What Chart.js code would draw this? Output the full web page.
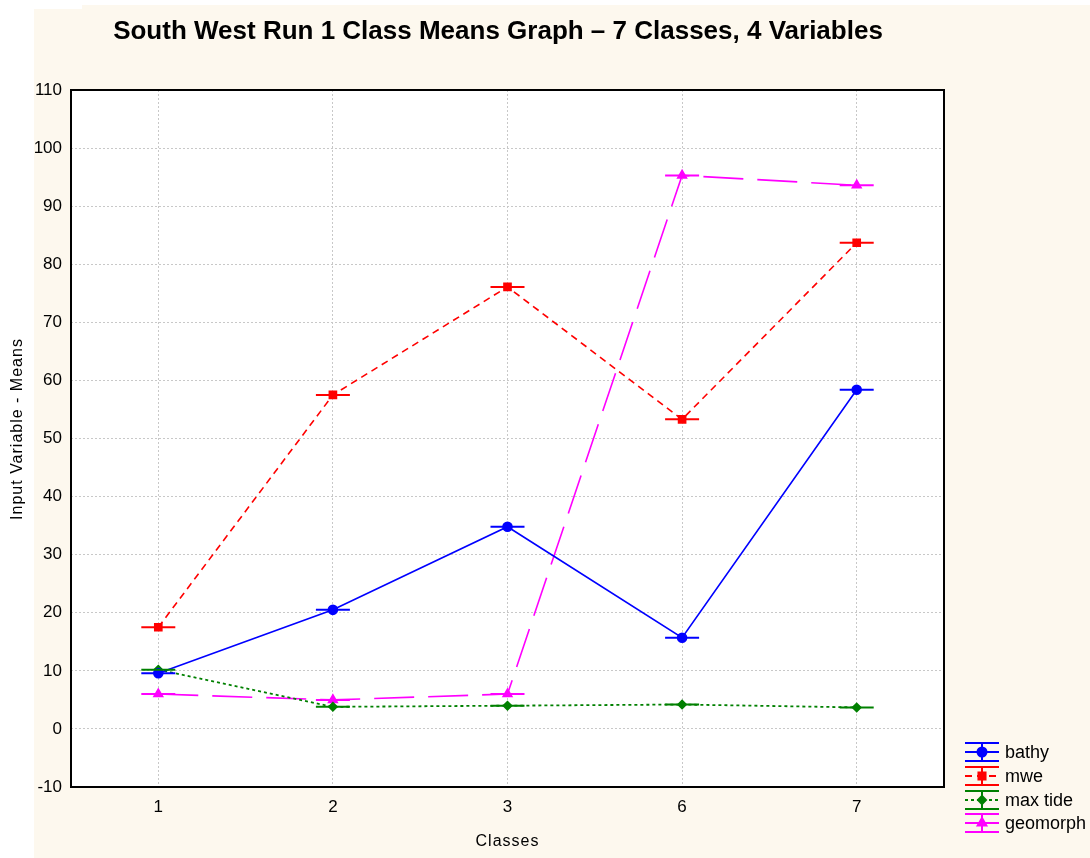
<!DOCTYPE html>
<html lang="en">
<head>
<meta charset="UTF-8">
<title>South West Run 1 Class Means Graph</title>
<script src="https://cdn.jsdelivr.net/npm/chart.js"></script>
<style>
    body { margin: 0; padding: 0; background: #ffffff; }
    #wrap { width: 1090px; height: 858px; position: relative; }
</style>
</head>
<body>
<div id="wrap"><canvas id="chart" width="1090" height="858"></canvas></div>
<script>
    const classes = ['1', '2', '3', '6', '7'];
    const bathy = [9.6, 20.5, 34.8, 15.7, 58.4];
    const mwe = [17.5, 57.5, 76.1, 53.3, 83.7];
    const maxTide = [10.2, 3.8, 4.0, 4.2, 3.7];
    const geomorph = [6.0, 5.0, 6.0, 95.3, 93.6];
    const yTicks = [-10, 0, 10, 20, 30, 40, 50, 60, 70, 80, 90, 100, 110];

    const FONT = '"Liberation Sans", Arial, sans-serif';

    // background, title, axis titles, frame, error caps and legend
    const decor = {
        id: 'decor',
        beforeDraw(chart) {
            const c = chart.ctx;
            const a = chart.chartArea;
            c.save();
            c.fillStyle = '#fdf8ee';
            c.fillRect(82, 5, 1008, 4);
            c.fillRect(34, 9, 1056, 849);
            c.fillStyle = '#ffffff';
            c.fillRect(a.left, a.top, a.right - a.left, a.bottom - a.top);
            c.restore();
        },
        afterDatasetsDraw(chart) {
            const c = chart.ctx;
            c.save();
            chart.data.datasets.forEach((ds, i) => {
                const meta = chart.getDatasetMeta(i);
                c.strokeStyle = ds.borderColor;
                c.lineWidth = 2;
                c.setLineDash([]);
                meta.data.forEach(p => {
                    c.beginPath();
                    c.moveTo(p.x - 17, p.y);
                    c.lineTo(p.x + 17, p.y);
                    c.stroke();
                });
            });
            c.restore();
        },
        afterDraw(chart) {
            const c = chart.ctx;
            const a = chart.chartArea;
            c.save();
            // frame
            c.strokeStyle = '#000000';
            c.lineWidth = 2;
            c.strokeRect(a.left, a.top, a.right - a.left, a.bottom - a.top);

            // title
            c.fillStyle = '#000000';
            c.font = 'bold 26px ' + FONT;
            c.textAlign = 'center';
            c.textBaseline = 'middle';
            c.fillText('South West Run 1 Class Means Graph \u2013 7 Classes, 4 Variables', 498, 32);

            // axis titles
            c.font = '16px ' + FONT;
            c.letterSpacing = '1px';
            c.fillText('Classes', (a.left + a.right) / 2, 842);
            c.save();
            c.translate(18, 429);
            c.rotate(-Math.PI / 2);
            c.fillText('Input Variable - Means', 0, 0);
            c.restore();
            c.letterSpacing = '0px';

            // legend
            const rows = [752, 776, 800, 823];
            chart.data.datasets.forEach((ds, i) => {
                const y = rows[i];
                const x0 = 965, x1 = 999, xm = 982;
                c.strokeStyle = ds.borderColor;
                c.fillStyle = ds.borderColor;
                c.lineWidth = 2;
                c.setLineDash([]);
                c.beginPath();
                c.moveTo(x0, y - 9); c.lineTo(x1, y - 9);
                c.moveTo(x0, y + 9); c.lineTo(x1, y + 9);
                c.moveTo(xm, y - 9); c.lineTo(xm, y + 9);
                c.stroke();
                c.setLineDash(ds.borderDash || []);
                c.beginPath();
                c.moveTo(x0, y); c.lineTo(x1, y);
                c.stroke();
                c.setLineDash([]);
                Chart.helpers.drawPoint(c, {
                    pointStyle: ds.pointStyle,
                    radius: ds.pointRadius,
                    borderWidth: 1
                }, xm, y);
                c.fillStyle = '#000000';
                c.font = '18px ' + FONT;
                c.textAlign = 'left';
                c.fillText(ds.label, 1005, y + 1);
            });
            c.restore();
        }
    };

    new Chart(document.getElementById('chart'), {
        type: 'line',
        data: {
            labels: classes,
            datasets: [
                {
                    label: 'bathy', data: bathy,
                    borderColor: '#0000ff', backgroundColor: '#0000ff',
                    borderWidth: 1.6, pointStyle: 'circle', pointRadius: 4.5
                },
                {
                    label: 'mwe', data: mwe,
                    borderColor: '#ff0000', backgroundColor: '#ff0000',
                    borderWidth: 1.6, borderDash: [7, 5], pointStyle: 'rect', pointRadius: 5
                },
                {
                    label: 'max tide', data: maxTide,
                    borderColor: '#008000', backgroundColor: '#008000',
                    borderWidth: 1.8, borderDash: [3, 3], pointStyle: 'rectRot', pointRadius: 4
                },
                {
                    label: 'geomorph', data: geomorph,
                    borderColor: '#ff00ff', backgroundColor: '#ff00ff',
                    borderWidth: 1.6, borderDash: [40, 14], pointStyle: 'triangle', pointRadius: 5
                }
            ]
        },
        options: {
            responsive: false,
            animation: false,
            layout: { padding: { top: 90, right: 146, left: 0, bottom: 0 } },
            plugins: {
                legend: { display: false },
                title: { display: false },
                tooltip: { enabled: false }
            },
            elements: { line: { tension: 0 }, point: { borderWidth: 1 } },
            scales: {
                x: {
                    offset: true,
                    grid: { offset: false, color: '#c8c8c8', drawTicks: false },
                    border: { display: false, dash: [2, 2] },
                    ticks: { color: '#000000', padding: 10, font: { family: FONT, size: 17 } },
                    afterFit(scale) { scale.height = 71; }
                },
                y: {
                    min: -10, max: 110,
                    afterBuildTicks(scale) { scale.ticks = yTicks.map(v => ({ value: v })); },
                    grid: { color: '#c8c8c8', drawTicks: false },
                    border: { display: false, dash: [2, 2] },
                    ticks: { color: '#000000', padding: 9, font: { family: FONT, size: 17 } },
                    afterFit(scale) { scale.width = 71; }
                }
            }
        },
        plugins: [decor]
    });
</script>
</body>
</html>
